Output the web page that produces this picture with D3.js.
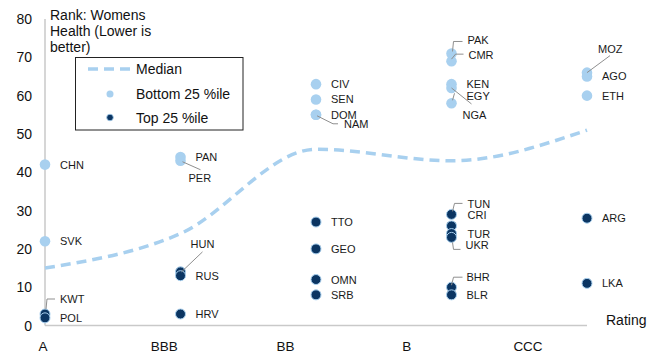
<!DOCTYPE html>
<html>
<head>
<meta charset="utf-8">
<script src="https://cdn.jsdelivr.net/npm/d3@7/dist/d3.min.js"></script>
<style>
  html, body { margin: 0; padding: 0; background: #fff; }
  svg { display: block; font-family: "Liberation Sans", Arial, sans-serif; }
</style>
</head>
<body>
<svg id="chart" width="658" height="356"></svg>
<script>
// Sovereign rating buckets and the median women's-health rank in each
const ratings = ["A", "BBB", "BB", "B", "CCC"];
const medianRank = [15, 24, 46, 43, 51];

// Bottom quartile countries (worst ranks)
const bottomCountries = ["CHN", "SVK", "PAN", "PER", "CIV", "SEN", "DOM", "NAM",
  "PAK", "CMR", "KEN", "NGA", "EGY", "MOZ", "AGO", "ETH"];
const bottomRatings = ["A", "A", "BBB", "BBB", "BB", "BB", "BB", "BB",
  "B", "B", "B", "B", "B", "CCC", "CCC", "CCC"];
const bottomRanks = [42, 22, 44, 43, 63, 59, 55, 55, 71, 69, 63, 62, 58, 66, 65, 60];

// Top quartile countries (best ranks)
const topCountries = ["KWT", "POL", "HUN", "RUS", "HRV", "TTO", "GEO", "OMN", "SRB",
  "TUN", "CRI", "TUR", "UKR", "BHR", "BLR", "ARG", "LKA"];
const topRatings = ["A", "A", "BBB", "BBB", "BBB", "BB", "BB", "BB", "BB",
  "B", "B", "B", "B", "B", "B", "CCC", "CCC"];
const topRanks = [3, 2, 14, 13, 3, 27, 20, 12, 8, 29, 26, 24, 23, 10, 8, 28, 11];

const yTicks = [0, 10, 20, 30, 40, 50, 60, 70, 80];

// Label placement relative to each marker (default: to the right)
const labelPlacement = {
  KWT: { dx: 15, dy: -15, leader: [[1, -5], [2, -15], [10, -15]] },
  PER: { dx: 8, dy: 17, leader: [[2, 1], [20, 9]] },
  HUN: { dx: 10, dy: -28, leader: [[1, 0], [22, -20]] },
  NAM: { dx: 28, dy: 9, leader: [[1, 1], [17, 9], [22, 9]] },
  PAK: { dx: 16, dy: -13, leader: [[1, -2], [2, -12], [11, -12]] },
  CMR: { dx: 17, dy: -6, leader: [[0, -2], [4, -7], [12, -7]] },
  NGA: { dx: 11, dy: 27, leader: [[0, 0], [20, 16]] },
  EGY: { dx: 15, dy: -7, leader: [[1, -3], [3, -10]] },
  TUN: { dx: 16, dy: -10, leader: [[1, -3], [3, -11], [11, -11]] },
  CRI: { dx: 16, dy: -11 },
  TUR: { dx: 16, dy: 0 },
  UKR: { dx: 14, dy: 8, leader: [[1, 5], [2, 12], [9, 12]] },
  BHR: { dx: 15, dy: -10, leader: [[0, -2], [2, -10], [11, -10]] },
  MOZ: { dx: 11, dy: -24, leader: [[0, 0], [23, -17]] },
  AGO: { dx: 15, dy: 0 }
};

const svg = d3.select("#chart");

const y = d3.scaleLinear().domain([0, 80]).range([325.5, 19]);
const xPts = d3.scalePoint().domain(ratings).range([45, 587]);
const xLabels = d3.scalePoint().domain(ratings).range([43, 528]);

const axisColor = "#c9c9c9";
const lightBlue = "#a8d0ef";
const darkBlue = "#0b3562";

// Axis lines
svg.append("line")
  .attr("x1", xPts("A")).attr("x2", xPts("A"))
  .attr("y1", y(80)).attr("y2", y(0))
  .attr("stroke", axisColor).attr("stroke-width", 1.5);
svg.append("line")
  .attr("x1", xPts("A")).attr("x2", xPts("CCC"))
  .attr("y1", y(0)).attr("y2", y(0))
  .attr("stroke", axisColor).attr("stroke-width", 1.5);

// Y tick labels
svg.append("g").selectAll("text").data(yTicks).join("text")
  .attr("x", 32).attr("y", d => y(d) + 5)
  .attr("text-anchor", "end")
  .attr("font-size", 14).attr("fill", "#111")
  .text(d => d);

// X category labels
svg.append("g").selectAll("text").data(ratings).join("text")
  .attr("x", d => xLabels(d)).attr("y", 351)
  .attr("text-anchor", "middle")
  .attr("font-size", 13.5).attr("fill", "#111")
  .text(d => d);

// Axis titles
svg.append("text")
  .attr("x", 50).attr("y", 19.5)
  .attr("font-size", 14).attr("fill", "#111")
  .selectAll("tspan").data(["Rank: Womens", "Health (Lower is", "better)"]).join("tspan")
  .attr("x", 50).attr("dy", (d, i) => i === 0 ? 0 : 16)
  .text(d => d);
svg.append("text")
  .attr("x", 606).attr("y", 325)
  .attr("font-size", 14).attr("fill", "#111")
  .text("Rating");

// Median line (smoothed)
const medianLine = d3.line()
  .x((d, i) => xPts(ratings[i]))
  .y(d => y(d))
  .curve(d3.curveMonotoneX);
svg.append("path")
  .datum(medianRank)
  .attr("d", medianLine)
  .attr("fill", "none")
  .attr("stroke", lightBlue)
  .attr("stroke-width", 3.5)
  .attr("stroke-dasharray", "10,6");

// Build point records
const bottomPts = bottomCountries.map((c, i) => ({ c, r: bottomRatings[i], v: bottomRanks[i], group: "bottom" }));
const topPts = topCountries.map((c, i) => ({ c, r: topRatings[i], v: topRanks[i], group: "top" }));
const allPts = bottomPts.concat(topPts);

// Markers
svg.append("g").selectAll("circle").data(bottomPts).join("circle")
  .attr("cx", d => xPts(d.r)).attr("cy", d => y(d.v))
  .attr("r", 5.3)
  .attr("fill", lightBlue);
svg.append("g").selectAll("circle").data(topPts).join("circle")
  .attr("cx", d => xPts(d.r)).attr("cy", d => y(d.v))
  .attr("r", 5)
  .attr("fill", darkBlue)
  .attr("stroke", lightBlue)
  .attr("stroke-width", 1);

// Leader lines from markers to offset labels
const leaders = svg.append("g");
allPts.forEach(p => {
  const pl = labelPlacement[p.c];
  if (pl && pl.leader) {
    const cx = xPts(p.r), cy = y(p.v);
    leaders.append("polyline")
      .attr("points", pl.leader.map(([dx, dy]) => `${cx + dx},${cy + dy}`).join(" "))
      .attr("fill", "none")
      .attr("stroke", "#8f8f8f")
      .attr("stroke-width", 1);
  }
});

// Country labels
svg.append("g").selectAll("text").data(allPts).join("text")
  .attr("x", d => xPts(d.r) + (labelPlacement[d.c] ? labelPlacement[d.c].dx : 15))
  .attr("y", d => y(d.v) + (labelPlacement[d.c] ? labelPlacement[d.c].dy : 0) + 4)
  .attr("font-size", 11).attr("fill", "#1a1a1a")
  .text(d => d.c);

// Legend
const lg = svg.append("g");
lg.append("rect")
  .attr("x", 75.5).attr("y", 57.5).attr("width", 167.5).attr("height", 72.5)
  .attr("fill", "#fff").attr("stroke", "#222").attr("stroke-width", 1);
lg.append("line")
  .attr("x1", 88).attr("x2", 132).attr("y1", 69).attr("y2", 69)
  .attr("stroke", lightBlue).attr("stroke-width", 3.5).attr("stroke-dasharray", "10,6");
lg.append("circle").attr("cx", 110).attr("cy", 94).attr("r", 3.5).attr("fill", lightBlue);
lg.append("circle").attr("cx", 110).attr("cy", 117.5).attr("r", 3.3)
  .attr("fill", darkBlue).attr("stroke", lightBlue).attr("stroke-width", 0.8);
lg.selectAll("text.lbl").data(["Median", "Bottom 25 %ile", "Top 25 %ile"]).join("text")
  .attr("class", "lbl")
  .attr("x", 136).attr("y", (d, i) => [74, 99, 122.5][i])
  .attr("font-size", 14).attr("fill", "#111")
  .text(d => d);
</script>
</body>
</html>
